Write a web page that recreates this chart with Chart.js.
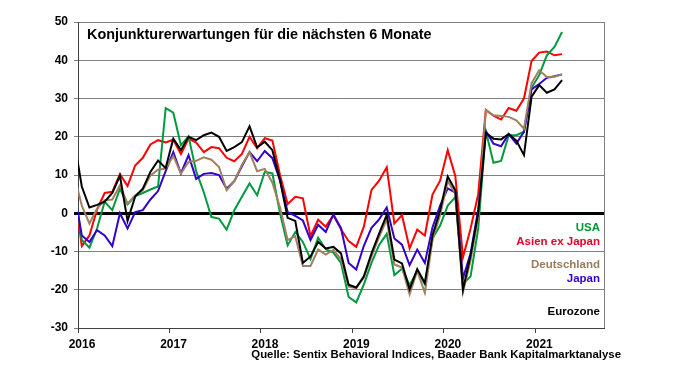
<!DOCTYPE html>
<html lang="de">
<head>
<meta charset="utf-8">
<title>Konjunkturerwartungen</title>
<script src="https://cdn.jsdelivr.net/npm/chart.js@4.4.1/dist/chart.umd.min.js"></script>
<style>
  html, body { margin: 0; padding: 0; background: #fff; }
  canvas { display: block; }
</style>
</head>
<body>
<canvas id="konjunkturChart" width="675" height="376"></canvas>
<script>
// Monatswerte Dez 2015 bis Apr 2021 (Dez 2015 liegt links ausserhalb der Achse)
const jahre = ['2016', '2017', '2018', '2019', '2020', '2021'];

const eurozone = [19,
  7, 1.5, 2.2, 3, 5.3, 9.8, -2, 4.4, 6.4, 10.8, 13.8, 11.8,
  19.5, 16.5, 20, 19.1, 20.4, 21.1, 20, 16.3, 17.3, 18.6, 22.7, 17.2,
  18.7, 16.5, 8.6, -1.2, -2, -13, -11.3, -7.5, -9.2, -8.8, -10.5, -18.7,
  -19.4, -16.5, -10.5, -5.3, -0.4, -12.1, -13.1, -19.9, -14.6, -18.2, -5.8, 0.7,
  9.6, 6, -20, -11, 0, 21, 19.5, 19.3, 20.7, 19, 15.2, 30.5,
  33.5, 31.5, 32.4, 34.8];

const asienExJapan = [6,
  -8.6, -5.8, 1, 5.3, 5.6, 10.2, 7.1, 12.5, 14.5, 18, 19.1, 18.5,
  19.2, 15.5, 19.5, 18.5, 16, 17.3, 17, 14.5, 13.6, 15.5, 20, 17,
  19.6, 19, 10, 2.4, 4.3, 3.9, -6, -1.7, -3.5, -0.5, -4.2, -7.3,
  -8.8, -3.5, 6.1, 8.5, 12, -2.7, -0.5, -9.2, -4.3, -5.8, 4.9, 8.5,
  16.5, 9.7, -11.5, -4, 5, 27, 25.5, 24.5, 27.5, 26.8, 30, 39.8,
  42, 42.3, 41.3, 41.6];

const usa = [7,
  -7, -9, -4, 3, 0.8, 6.4, 2.3, 4.5, 5.3, 6.2, 7, 27.5,
  26.3, 17.8, 20.1, 11, 5.5, -1, -1.4, -4.3, 0.8, 4.3, 7.8, 4.7,
  10.8, 10.4, 0, -8.4, -4.9, -7.5, -12, -6.4, -9.4, -10.3, -13, -21.9,
  -23.3, -18.6, -13, -8.3, -5.4, -16.2, -14.5, -18.8, -15.1, -18.6, -6.6, -3.2,
  2, 4.2, -18.5, -16.5, -4, 21.5, 13.2, 13.7, 20.4, 20.4, 21.3, 32.8,
  36.1, 41.3, 43.5, 47.4];

const japan = [5.8,
  -5.8, -7.5, -4.4, -5.8, -8.6, 0, -4, 0.3, 0.8, 3.6, 5.8, 11,
  16, 10.4, 15.2, 9, 10.3, 10.5, 10, 6.4, 8.4, 12.3, 16, 13.6,
  16.3, 14.4, 8.6, 0.3, -0.7, -1.9, -7, -3, -4.9, -0.3, -3.9, -13,
  -14.7, -8.5, -3.8, -1.6, 1.5, -6.6, -8.2, -13.6, -9.5, -13, -3.7, 2,
  6.5, 5.4, -17, -10.5, 1, 21.5, 18.2, 17.5, 20.7, 18.2, 21.3, 32.4,
  33.8, 35.4, 35.8, 36.3];

const deutschland = [10,
  2, -2.7, 1.2, 3.4, 3.6, 7.3, 2.5, 4.7, 6, 9.9, 11.4, 11.7,
  15, 10.4, 13.4, 13.7, 14.6, 14, 12.1, 6, 8.4, 12.6, 16, 11,
  11.6, 8, 1.5, -7, -6, -13.8, -13.8, -9.5, -10.8, -9.6, -12, -19.2,
  -19.6, -16.8, -11.3, -6.2, -1.6, -13.4, -14.2, -21.2, -15.1, -20.8, -7, -0.5,
  8.4, 5.2, -20.6, -12.3, -1, 27, 25.6, 25.4, 25.2, 24.3, 22.1, 34,
  37.4, 35.6, 35.7, 36.3];

const titel = 'Konjunkturerwartungen für die nächsten 6 Monate';
const quelle = 'Quelle: Sentix Behavioral Indices, Baader Bank Kapitalmarktanalyse';
const schrift = '"Liberation Sans", Arial, sans-serif';

// x = Monate seit Jan 2016, Punkte jeweils in Monatsmitte
const toPoints = (werte) => werte.map((v, j) => ({ x: j - 0.5, y: v }));

const serien = [
  { label: 'Eurozone', werte: eurozone, color: '#000000', labelY: -25.9 },
  { label: 'Deutschland', werte: deutschland, color: '#a08060', labelY: -13.6 },
  { label: 'Japan', werte: japan, color: '#3300cc', labelY: -17.1 },
  { label: 'USA', werte: usa, color: '#009a3e', labelY: -3.7 },
  { label: 'Asien ex Japan', werte: asienExJapan, color: '#ff0000', labelY: -7.5 }
];

const labelColors = {
  'USA': '#009933', 'Asien ex Japan': '#e8002a', 'Deutschland': '#9c7b5b',
  'Japan': '#3300cc', 'Eurozone': '#000000'
};

const textePlugin = {
  id: 'texte',
  afterDraw(chart) {
    const { ctx, chartArea: a } = chart;
    const y = chart.scales.y;
    ctx.save();
    // rechter Rahmen der Zeichenflaeche
    ctx.strokeStyle = '#808080';
    ctx.lineWidth = 1;
    ctx.beginPath();
    ctx.moveTo(a.right + 0.5, a.top);
    ctx.lineTo(a.right + 0.5, a.bottom);
    ctx.stroke();

    ctx.fillStyle = '#000';
    ctx.textBaseline = 'middle';
    ctx.font = 'bold 14.4px ' + schrift;
    ctx.fillText(titel, a.left + 9, 35);

    ctx.font = 'bold 11.5px ' + schrift;
    ctx.textAlign = 'right';
    serien.forEach(s => {
      ctx.fillStyle = labelColors[s.label];
      ctx.fillText(s.label, a.right - 4, y.getPixelForValue(s.labelY));
    });

    ctx.fillStyle = '#000';
    ctx.font = 'bold 11.4px ' + schrift;
    ctx.fillText(quelle, 621, 355);
    ctx.restore();
  }
};

const ctx = document.getElementById('konjunkturChart');

new Chart(ctx, {
  type: 'line',
  data: {
    datasets: serien.map((s, k) => ({
      label: s.label,
      data: toPoints(s.werte),
      borderColor: s.color,
      borderWidth: 2,
      pointRadius: 0,
      tension: 0,
      fill: false,
      clip: 0,
      order: k + 1
    }))
  },
  options: {
    responsive: false,
    animation: false,
    layout: { padding: { top: 22, right: 71, bottom: 0, left: 0 } },
    plugins: {
      legend: { display: false },
      tooltip: { enabled: false }
    },
    scales: {
      x: {
        type: 'linear',
        min: 0,
        max: 69,
        afterFit: (s) => { s.height = 48; },
        afterBuildTicks: (s) => { s.ticks = jahre.map((_, k) => ({ value: k * 12 })); },
        border: { color: '#404040', width: 1 },
        grid: { drawOnChartArea: false, drawTicks: true, tickLength: 5, color: '#404040' },
        ticks: {
          autoSkip: false,
          maxRotation: 0,
          padding: 4,
          labelOffset: 4,
          color: '#000',
          font: { family: schrift, size: 12, weight: 'bold' },
          callback: (v) => jahre[Math.round(v / 12)]
        }
      },
      y: {
        min: -30,
        max: 50,
        afterFit: (s) => { s.width = 78; },
        border: { color: '#404040', width: 1 },
        grid: {
          color: (c) => c.tick && c.tick.value === 0 ? '#000' : '#808080',
          lineWidth: (c) => c.tick && c.tick.value === 0 ? 3 : 1,
          tickLength: 4
        },
        ticks: {
          stepSize: 10,
          padding: 6,
          color: '#000',
          font: { family: schrift, size: 12, weight: 'bold' }
        }
      }
    }
  },
  plugins: [textePlugin]
});
</script>
</body>
</html>
